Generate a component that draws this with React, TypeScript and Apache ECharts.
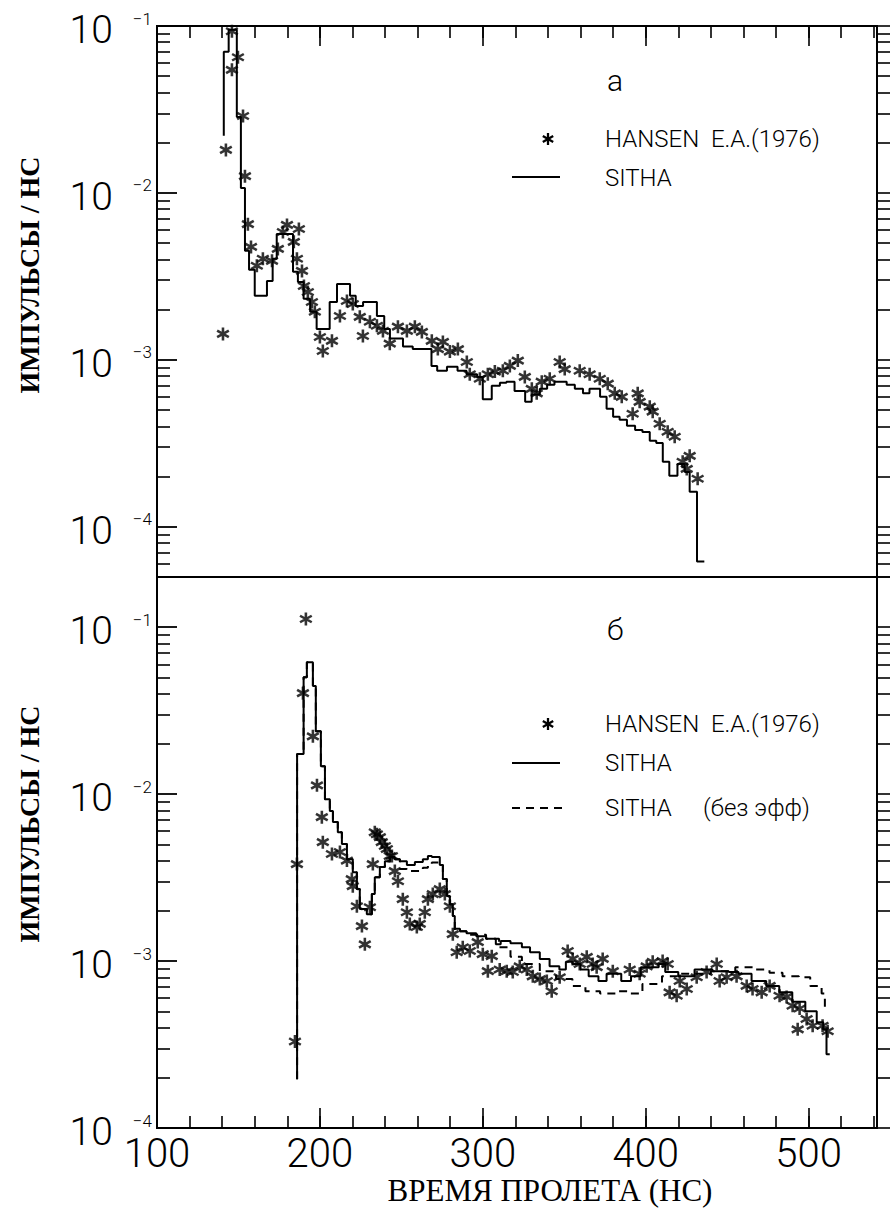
import React, { useEffect, useRef } from "react";
import * as echarts from "echarts";

// ---------------- DATA ----------------
// Panel a (top): HANSEN E.A.(1976) measured points
const topHansenT = [140.5, 142.3, 146, 146, 149.7, 152.8, 154, 155.8, 157.7, 161.3, 165, 170.6, 174.2, 177.3, 179.8, 184, 187.1, 185.9, 189, 190.2, 192.6, 195.1, 196.9, 200, 201.8, 207.4, 212.3, 216.6, 220.2, 224.5, 226.4, 230.7, 235, 238.7, 242.9, 247.9, 253.4, 258.3, 262.6, 268.7, 272.4, 275.5, 279.8, 284.7, 290.2, 292, 298.2, 303.1, 307.4, 312.3, 316.6, 321.5, 325.8, 330.1, 333.1, 336.2, 341.1, 347.2, 350.3, 359.5, 365.6, 371.8, 376.7, 381, 385.3, 392, 395.1, 396.3, 402.5, 404.3, 408.6, 413.5, 417.8, 422.7, 425.2, 427, 431.9];
const topHansenV = [0.00143, 0.0181, 0.093, 0.0546, 0.065, 0.0289, 0.0126, 0.0065, 0.00475, 0.00366, 0.00403, 0.00392, 0.00462, 0.00583, 0.00643, 0.00509, 0.00608, 0.00403, 0.00341, 0.00277, 0.00255, 0.00222, 0.00194, 0.00137, 0.00113, 0.0013, 0.00183, 0.00225, 0.00216, 0.00181, 0.00139, 0.00169, 0.0016, 0.00149, 0.00125, 0.00158, 0.00149, 0.00158, 0.00147, 0.0013, 0.00116, 0.00128, 0.00112, 0.00116, 0.00097, 0.00082, 0.00077, 0.00082, 0.00085, 0.00086, 0.00092, 0.00099, 0.00079, 0.00067, 0.00063, 0.00074, 0.00077, 0.00097, 0.00088, 0.00086, 0.00082, 0.00077, 0.00072, 0.00063, 0.0006, 0.000475, 0.00063, 0.00056, 0.000524, 0.000489, 0.000414, 0.000371, 0.000346, 0.000245, 0.000222, 0.000266, 0.000194];

// Panel a (top): SITHA histogram (bin left edge, value)
const topSithaT = [141, 141, 144, 149, 151.5, 154, 156.5, 160, 167.5, 171, 173.5, 183.5, 186.5, 190, 194, 198, 206, 210.5, 218.5, 222, 226.5, 235, 239.5, 243, 251, 257, 268.5, 272, 278, 284.5, 290, 296.5, 300, 305.5, 310.5, 314.5, 319.5, 326, 330, 335, 339.5, 344, 351.5, 356.5, 361.5, 365.5, 372, 376, 380, 384, 388.5, 393.5, 398, 402.5, 406.5, 410.5, 414.5, 419.5, 424, 427, 431.5, 436];
const topSithaV = [0.022, 0.07, 0.095, 0.0285, 0.0107, 0.0045, 0.00346, 0.00242, 0.00297, 0.00403, 0.00568, 0.00337, 0.00293, 0.00232, 0.00194, 0.00153, 0.00222, 0.00285, 0.00242, 0.0021, 0.00222, 0.00183, 0.00153, 0.00134, 0.0012, 0.00116, 0.00092, 0.00086, 0.00091, 0.00086, 0.00082, 0.00079, 0.00058, 0.0007, 0.00073, 0.00074, 0.00065, 0.00056, 0.00062, 0.00067, 0.00071, 0.00074, 0.00071, 0.00067, 0.00063, 0.00067, 0.0006, 0.00051, 0.000456, 0.000437, 0.000403, 0.00038, 0.00037, 0.000327, 0.000318, 0.000245, 0.000202, 0.000238, 0.000213, 0.000162, 0.000062, 0.000062];

// Panel б (bottom): HANSEN E.A.(1976) measured points
const botHansenT = [184.7, 185.9, 189.6, 191.4, 195.7, 198.2, 201.2, 201.8, 207.4, 212.3, 216.6, 219.6, 220.2, 222.7, 225.8, 227.6, 230.7, 232.5, 233.7, 235, 236.8, 238, 239.9, 241.1, 242.9, 244.2, 246, 247.9, 250.9, 253.4, 255.2, 259.5, 261.3, 264.4, 266.3, 269.3, 273.6, 276.7, 279.8, 281.6, 284, 287.7, 292, 296.9, 300, 303.1, 305.5, 310.4, 314.7, 318.4, 322.7, 327, 330.7, 335, 339.3, 342.3, 347.2, 352.1, 355.2, 359.5, 363.8, 367.5, 369.9, 373.6, 379.8, 390.2, 396.3, 400.6, 404.3, 410.4, 413.5, 414.7, 419, 420.9, 425.2, 431.3, 437.4, 443.6, 445.4, 449.7, 455.8, 462, 465.6, 471.2, 476.1, 482.2, 486.5, 490.2, 493.3, 494.5, 498.8, 502.5, 508.6, 511.7];
const botHansenV = [0.00033, 0.00381, 0.0403, 0.112, 0.0222, 0.0113, 0.00728, 0.00516, 0.00438, 0.0045, 0.004, 0.0031, 0.00281, 0.00213, 0.00162, 0.00126, 0.0021, 0.00381, 0.00591, 0.00575, 0.00553, 0.00516, 0.00489, 0.00469, 0.00426, 0.00426, 0.00346, 0.00301, 0.00235, 0.00196, 0.00167, 0.0016, 0.00167, 0.00196, 0.00235, 0.00252, 0.0027, 0.00252, 0.00213, 0.00145, 0.00113, 0.00121, 0.00115, 0.0013, 0.0011, 0.00087, 0.00107, 0.00089, 0.00087, 0.00086, 0.00093, 0.00089, 0.00081, 0.00078, 0.00076, 0.00066, 0.0008, 0.00115, 0.00103, 0.00096, 0.00106, 0.00096, 0.00092, 0.00103, 0.00087, 0.00089, 0.00084, 0.00093, 0.00099, 0.001, 0.00096, 0.00065, 0.00062, 0.00076, 0.00068, 0.0008, 0.00086, 0.00096, 0.00076, 0.0008, 0.00081, 0.00071, 0.00068, 0.00065, 0.00071, 0.00062, 0.00061, 0.00054, 0.00039, 0.00052, 0.00045, 0.00041, 0.00041, 0.00038];

// Panel б (bottom): SITHA histogram
const botSithaT = [186, 186, 190, 192, 195.7, 197.5, 200.6, 203.1, 206.1, 208, 211, 213.5, 216.6, 220.2, 222.7, 224.5, 228.8, 231.9, 233.7, 236.8, 239.9, 242.9, 246, 249.1, 253.4, 258.3, 263.2, 266.3, 268.7, 273.6, 275.5, 277.9, 279.8, 281.6, 282.8, 286, 290, 296, 302, 308, 311, 317, 324, 329, 335, 341, 347, 351, 355, 360, 365, 371, 376, 385, 391, 397, 408, 412, 420, 430, 441, 451, 457, 465, 474, 482, 490, 498, 505, 509, 511, 513];
const botSithaV = [0.000196, 0.0174, 0.0502, 0.0617, 0.0444, 0.0238, 0.0147, 0.00933, 0.00794, 0.0068, 0.00591, 0.00502, 0.00408, 0.00341, 0.0027, 0.00205, 0.00191, 0.00252, 0.00318, 0.00366, 0.00397, 0.0042, 0.00408, 0.00397, 0.00376, 0.00392, 0.00408, 0.00426, 0.0042, 0.00376, 0.0031, 0.00245, 0.00219, 0.00186, 0.00156, 0.00151, 0.00147, 0.00141, 0.00136, 0.00126, 0.00132, 0.00128, 0.00121, 0.00113, 0.00103, 0.00093, 0.00089, 0.00099, 0.00096, 0.00089, 0.00081, 0.00076, 0.00084, 0.00076, 0.00081, 0.00092, 0.00096, 0.00086, 0.00081, 0.00089, 0.00087, 0.00086, 0.00084, 0.00076, 0.00071, 0.00065, 0.00057, 0.0005, 0.00043, 0.00039, 0.000277, 0.000277];

// Panel б (bottom): SITHA (без эфф) histogram
const botNoEffT = [186, 186, 190, 192, 195.7, 197.5, 200.6, 203.1, 206.1, 208, 211, 213.5, 216.6, 220.2, 222.7, 224.5, 228.8, 231.9, 233.7, 236.8, 239.9, 242.9, 246, 249.1, 253.4, 258.3, 263.2, 266.3, 268.7, 273.6, 275.5, 277.9, 279.8, 281.6, 282.8, 290, 302, 310, 317, 324, 335, 345, 355, 363, 372, 382, 390, 398, 410, 420, 440, 455, 466, 476, 484, 494, 501, 508, 510, 511];
const botNoEffV = [0.000196, 0.0174, 0.0502, 0.0617, 0.0444, 0.0238, 0.0147, 0.00933, 0.00794, 0.0068, 0.00591, 0.00502, 0.00408, 0.00341, 0.0027, 0.00205, 0.00191, 0.00252, 0.00318, 0.00366, 0.00397, 0.0042, 0.00408, 0.00356, 0.00346, 0.00346, 0.00362, 0.00376, 0.0039, 0.00376, 0.0031, 0.00245, 0.00219, 0.00186, 0.00151, 0.00144, 0.00136, 0.00121, 0.00106, 0.00096, 0.00087, 0.00078, 0.00071, 0.00066, 0.00064, 0.00066, 0.00064, 0.00073, 0.00081, 0.00084, 0.00087, 0.00092, 0.00089, 0.00085, 0.00081, 0.0008, 0.00071, 0.00064, 0.00053, 0.00053];

// Axes
const xMin = 100;
const xMax = 542;
const xMinorStep = 20;
const xMajorStep = 100;
const topYMin = 5e-5;
const topYMax = 0.1;
const botYMin = 1e-4;
const botYMax = 0.2;
const decadeExponents = [-5, -4, -3, -2, -1];
const minorMantissas = [2, 3, 4, 5, 6, 7, 8, 9];
const topLabelValues = [1e-4, 1e-3, 1e-2, 1e-1];
const botLabelValues = [1e-4, 1e-3, 1e-2, 1e-1];

const labelsText = {
  yTitle: "ИМПУЛЬСЫ / НС",
  xTitle: "ВРЕМЯ ПРОЛЕТА (НС)",
  hansen: "HANSEN  E.A.(1976)",
  sitha: "SITHA",
  noEff: "(без эфф)",
  panelA: "a",
  panelB: "б",
};

// ---------------- SHAPES ----------------
// six-armed asterisk in a 20x20 box
const STAR =
  "M8.1 0L11.9 0L11.9 20L8.1 20Z M0.39 6.65L2.29 3.35L19.61 13.35L17.71 16.65Z M2.29 16.65L0.39 13.35L17.71 3.35L19.61 6.65Z";
echarts.graphic.registerShape("asterisk", echarts.graphic.extendPath(STAR, {}) as any);

const pairs = (t: number[], v: number[]) => t.map((x, i) => [x, v[i]]);

function ticksIn(min: number, max: number, withMajor: boolean) {
  const out: number[] = [];
  decadeExponents.forEach((e) => {
    const p = Math.pow(10, e);
    if (withMajor && p >= min * 0.999 && p <= max * 1.001) out.push(p);
    minorMantissas.forEach((m) => {
      const v = m * p;
      if (v >= min * 0.999 && v <= max * 1.001) out.push(v);
    });
  });
  return out;
}
function majorsIn(min: number, max: number) {
  return decadeExponents.map((e) => Math.pow(10, e)).filter((p) => p >= min * 0.999 && p <= max * 1.001);
}

const FONT = "Roboto";
const SERIF = "'Liberation Serif', 'DejaVu Serif', serif";

function leftLabelAxis(gridIndex: number, min: number, max: number, labels: number[]) {
  return {
    type: "log",
    logBase: 10,
    gridIndex,
    position: "left",
    min,
    max,
    axisLine: { show: false },
    splitLine: { show: false },
    axisTick: {
      show: true,
      inside: true,
      length: 13,
      customValues: ticksIn(min, max, false),
      lineStyle: { color: "#000", width: 1.6 },
    },
    axisLabel: {
      show: true,
      customValues: labels,
      margin: 5,
      padding: [8, 0, 0, 0],
      formatter: (v: number) => {
        const e = Math.round(Math.log10(v));
        return "{b|10}{s|\u2212" + Math.abs(e) + "}";
      },
      rich: {
        b: { fontSize: 39, fontFamily: FONT, fontWeight: 300, lineHeight: 40, color: "#000" },
        s: {
          fontSize: 17,
          fontFamily: FONT,
          fontWeight: 300,
          lineHeight: 18,
          verticalAlign: "top",
          padding: [0, 0, 0, 20],
          color: "#000",
        },
      },
    },
  };
}
function leftMajorAxis(gridIndex: number, min: number, max: number) {
  return {
    type: "log",
    logBase: 10,
    gridIndex,
    position: "left",
    min,
    max,
    axisLine: { show: false },
    splitLine: { show: false },
    axisLabel: { show: false },
    axisTick: {
      show: true,
      inside: true,
      length: 20,
      customValues: majorsIn(min, max),
      lineStyle: { color: "#000", width: 1.8 },
    },
  };
}
function rightAxis(gridIndex: number, min: number, max: number) {
  return {
    type: "log",
    logBase: 10,
    gridIndex,
    position: "right",
    min,
    max,
    axisLine: { show: false },
    splitLine: { show: false },
    axisLabel: { show: false },
    axisTick: {
      show: true,
      inside: false,
      length: 13,
      customValues: ticksIn(min, max, true),
      lineStyle: { color: "#000", width: 1.6 },
    },
  };
}
function xAxisDef(gridIndex: number, position: string, step: number, len: number, labels: boolean) {
  return {
    type: "value",
    gridIndex,
    position,
    min: xMin,
    max: xMax,
    interval: step,
    axisLine: { show: false },
    splitLine: { show: false },
    axisTick: { show: true, inside: true, length: len, lineStyle: { color: "#000", width: 1.6 } },
    axisLabel: labels
      ? {
          show: true,
          margin: 5,
          showMaxLabel: false,
          formatter: (v: number) => (v % xMajorStep === 0 ? String(v) : ""),
          fontSize: 40,
          lineHeight: 40,
          fontFamily: FONT,
          fontWeight: 300,
          color: "#000",
        }
      : { show: false },
  };
}

function buildOption() {
  const gridBase = { left: 157, width: 720, height: 551, show: true, borderColor: "#000", borderWidth: 2, backgroundColor: "transparent", containLabel: false };
  const lineStyle = { color: "#000", width: 2 };
  const starSymbol = "path://" + STAR;
  const txt = (text: string, x: number, y: number, size: number, extra: any = {}) => ({
    type: "text",
    x,
    y,
    silent: true,
    style: { text, fontSize: size, fontFamily: FONT, fontWeight: 300, fill: "#000", align: "left", verticalAlign: "middle", ...extra },
  });
  const yTitle = (y: number) => ({
    type: "text",
    x: 29,
    y,
    rotation: Math.PI / 2,
    silent: true,
    style: { text: labelsText.yTitle, fontSize: 28, fontWeight: "bold", fontFamily: SERIF, fill: "#000", align: "center", verticalAlign: "middle" },
  });
  return {
    animation: false,
    backgroundColor: "#fff",
    grid: [
      { ...gridBase, top: 26 },
      { ...gridBase, top: 577 },
    ],
    xAxis: [
      xAxisDef(0, "top", xMinorStep, 12, false),
      xAxisDef(0, "top", xMajorStep, 20, false),
      xAxisDef(1, "bottom", xMinorStep, 12, true),
      xAxisDef(1, "bottom", xMajorStep, 20, false),
    ],
    yAxis: [
      leftLabelAxis(0, topYMin, topYMax, topLabelValues),
      leftMajorAxis(0, topYMin, topYMax),
      rightAxis(0, topYMin, topYMax),
      leftLabelAxis(1, botYMin, botYMax, botLabelValues),
      leftMajorAxis(1, botYMin, botYMax),
      rightAxis(1, botYMin, botYMax),
    ],
    series: [
      {
        name: "SITHA a",
        type: "line",
        xAxisIndex: 0,
        yAxisIndex: 0,
        step: "end",
        symbol: "none",
        lineStyle,
        data: pairs(topSithaT, topSithaV),
      },
      {
        name: "HANSEN a",
        type: "scatter",
        xAxisIndex: 0,
        yAxisIndex: 0,
        symbol: starSymbol,
        symbolSize: 13,
        itemStyle: { color: "#000" },
        data: pairs(topHansenT, topHansenV),
      },
      {
        name: "SITHA б",
        type: "line",
        xAxisIndex: 2,
        yAxisIndex: 3,
        step: "end",
        symbol: "none",
        lineStyle,
        data: pairs(botSithaT, botSithaV),
      },
      {
        name: "SITHA без эфф",
        type: "line",
        xAxisIndex: 2,
        yAxisIndex: 3,
        step: "end",
        symbol: "none",
        lineStyle: { color: "#000", width: 2, type: [8, 6] },
        data: pairs(botNoEffT, botNoEffV),
      },
      {
        name: "HANSEN б",
        type: "scatter",
        xAxisIndex: 2,
        yAxisIndex: 3,
        symbol: starSymbol,
        symbolSize: 13,
        itemStyle: { color: "#000" },
        data: pairs(botHansenT, botHansenV),
      },
    ],
    graphic: [
      // axis titles
      yTitle(275),
      yTitle(824),
      {
        type: "text",
        x: 550,
        y: 1190,
        silent: true,
        style: { text: labelsText.xTitle, fontSize: 31, fontFamily: SERIF, fill: "#000", align: "center", verticalAlign: "middle" },
      },
      // panel a legend
      txt(labelsText.panelA, 607, 80, 30),
      { type: "asterisk", x: 542, y: 133, scaleX: 0.6, scaleY: 0.6, silent: true, style: { fill: "#000" } },
      txt(labelsText.hansen, 605, 139, 24),
      { type: "line", silent: true, shape: { x1: 512, y1: 177, x2: 560, y2: 177 }, style: { stroke: "#000", lineWidth: 2 } },
      txt(labelsText.sitha, 605, 178, 24),
      // panel б legend
      txt(labelsText.panelB, 607, 629, 30),
      { type: "asterisk", x: 542, y: 718, scaleX: 0.6, scaleY: 0.6, silent: true, style: { fill: "#000" } },
      txt(labelsText.hansen, 605, 724, 24),
      { type: "line", silent: true, shape: { x1: 512, y1: 763, x2: 560, y2: 763 }, style: { stroke: "#000", lineWidth: 2 } },
      txt(labelsText.sitha, 605, 763, 24),
      { type: "line", silent: true, shape: { x1: 512, y1: 808, x2: 562, y2: 808 }, style: { stroke: "#000", lineWidth: 2, lineDash: [8, 6] } },
      txt(labelsText.sitha, 605, 808, 24),
      txt(labelsText.noEff, 703, 808, 24),
    ],
  };
}

export default function App() {
  const ref = useRef<HTMLDivElement>(null);
  useEffect(() => {
    document.body.style.margin = "0";
    const chart = echarts.init(ref.current!, null, { renderer: "svg" });
    chart.setOption(buildOption() as any);
    return () => chart.dispose();
  }, []);
  return <div ref={ref} style={{ width: 890, height: 1208, background: "#fff" }} />;
}
